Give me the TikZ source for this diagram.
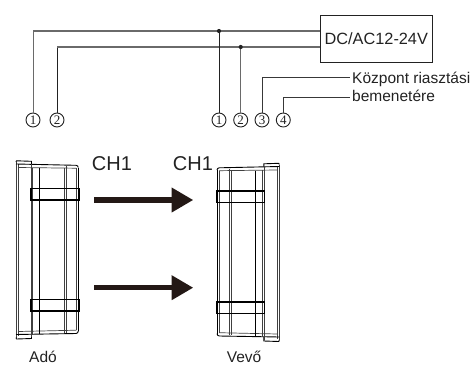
\documentclass[tikz,border=0pt]{standalone}
\usepackage{fontspec}
\setmainfont{Liberation Sans}
\newfontfamily\serifdig{Liberation Serif}
\usetikzlibrary{arrows.meta}
\definecolor{ink}{HTML}{231815}
\definecolor{txt}{HTML}{222222}
\definecolor{wiregray}{HTML}{6a6a6a}
\definecolor{devgray}{HTML}{404040}
\newcommand\drawdevice{%
  % left strip (cap side)
  \draw[devg] (16,162) -- (16,337.5);
  \draw[devg] (18,164) -- (18,336);
  \draw[devk] (16,162) -- (16.5,160.8) -- (31.5,161.3) -- (31.5,164);
  \draw[devk] (16,337.5) -- (16.5,339) -- (31.5,338.5) -- (31.5,334.5);
  % top face
  \draw[devk] (16,164) -- (76,165.3) to[out=0,in=90] (78.3,167.5);
  \draw[devg] (18,167.5) -- (76.3,168.2);
  % bottom face
  \draw[devg] (18,331.5) -- (76.3,330.2);
  \draw[devk] (16,334.5) -- (76,333.5) to[out=0,in=-90] (78.3,331);
  % verticals
  \draw[devg] (31,164) -- (31,337);
  \draw[devg] (32.6,167.5) -- (32.6,334.5);
  \draw[devk] (39.7,168) -- (39.7,333.5);
  \draw[devg] (64.3,168) -- (64.3,332.5);
  \draw[devg] (66.3,166) -- (66.3,332.5);
  \draw[devg] (76.3,168.2) -- (76.3,330.2);
  \draw[devk] (78.3,167.5) -- (78.3,331);
  % bands
  \draw[band] (31,188.3) rectangle (79,200);
  \draw[band] (31,299.5) rectangle (79,311);
}
\begin{document}
\begin{tikzpicture}[x=1pt,y=-1pt,
  num/.style={circle,draw=txt,line width=0.9pt,inner sep=0pt,minimum size=14pt,
    text=txt,font=\serifdig\fontsize{13}{13}\selectfont},
  hwire/.style={wiregray,line width=1.4pt},
  vwireg/.style={wiregray,line width=1pt},
  vwirek/.style={txt,line width=0.9pt},
  swire/.style={txt!90!white,line width=1pt},
  jdot/.style={txt,fill=txt},
  devg/.style={devgray,line width=0.7pt},
  devk/.style={black,line width=0.9pt},
  band/.style={black,line width=1.4pt},
  bigarrow/.style={ink,line width=5.3pt,-{Triangle[length=21.6pt,width=23.4pt]}},
  lab/.style={text=txt,inner sep=0pt},
]
\useasboundingbox (0,0) rectangle (473,364);

% power supply box
\node[draw=txt,line width=0.9pt,minimum width=111.3pt,minimum height=47pt,inner sep=0pt,
  text=txt,font=\fontsize{16.3}{16.3}\selectfont] (psu) at (376.3,38.5) {DC/AC12-24V};

% circled terminals
\node[num] (c1L) at (33,120) {1};
\node[num] (c2L) at (57,120) {2};
\node[num] (c1R) at (219,120) {1};
\node[num] (c2R) at (240.7,120) {2};
\node[num] (c3R) at (262,120) {3};
\node[num] (c4R) at (283.3,120) {4};

% junctions and wire ends
\coordinate (j1) at (219,31);
\coordinate (j2) at (240.7,47);
\coordinate (e3) at (350,77);
\coordinate (e4) at (350,97);
\coordinate (k1) at (33,31);
\coordinate (k2) at (57,47);

% wires
\draw[vwireg] (c1L.north) -- (k1);
\draw[hwire] (k1) -- (psu.west |- j1);
\draw[vwirek] (c2L.north) -- (k2);
\draw[hwire] (k2) -- (psu.west |- j2);
\draw[vwirek] (c1R.north) -- (j1);
\draw[vwireg] (c2R.north) -- (j2);
\fill[jdot] (j1) circle (2.1pt);
\fill[jdot] (j2) circle (2.1pt);
\draw[swire] (c3R.north) |- (e3);
\draw[swire] (c4R.north) |- (e4);

% labels
\node[lab,anchor=base west,font=\fontsize{15.5}{15.5}\selectfont] (lab3) at (352,83.3) {Központ riasztási};
\node[lab,anchor=base west,font=\fontsize{15.5}{15.5}\selectfont] (lab4) at (352,101) {bemenetére};
\node[lab,anchor=base west,font=\fontsize{20}{20}\selectfont] (ch1a) at (91.7,170) {CH1};
\node[lab,anchor=base west,font=\fontsize{20}{20}\selectfont] (ch1b) at (172.7,170) {CH1};
\node[lab,anchor=base,font=\fontsize{15.5}{15.5}\selectfont] (ado) at (43,362) {Adó};
\node[lab,anchor=base,font=\fontsize{15.5}{15.5}\selectfont] (vevo) at (244,362) {Vevő};

% devices
\drawdevice
\begin{scope}[cm={-1,0,0,1,(295.3pt,-2.5pt)}]
  \drawdevice
\end{scope}

% beams
\coordinate (a1s) at (94.3,200);
\coordinate (a1e) at (193.3,200);
\coordinate (a2s) at (94.3,287.7);
\coordinate (a2e) at (193.3,287.7);
\draw[bigarrow] (a1s) -- (a1e);
\draw[bigarrow] (a2s) -- (a2e);
\end{tikzpicture}
\end{document}
